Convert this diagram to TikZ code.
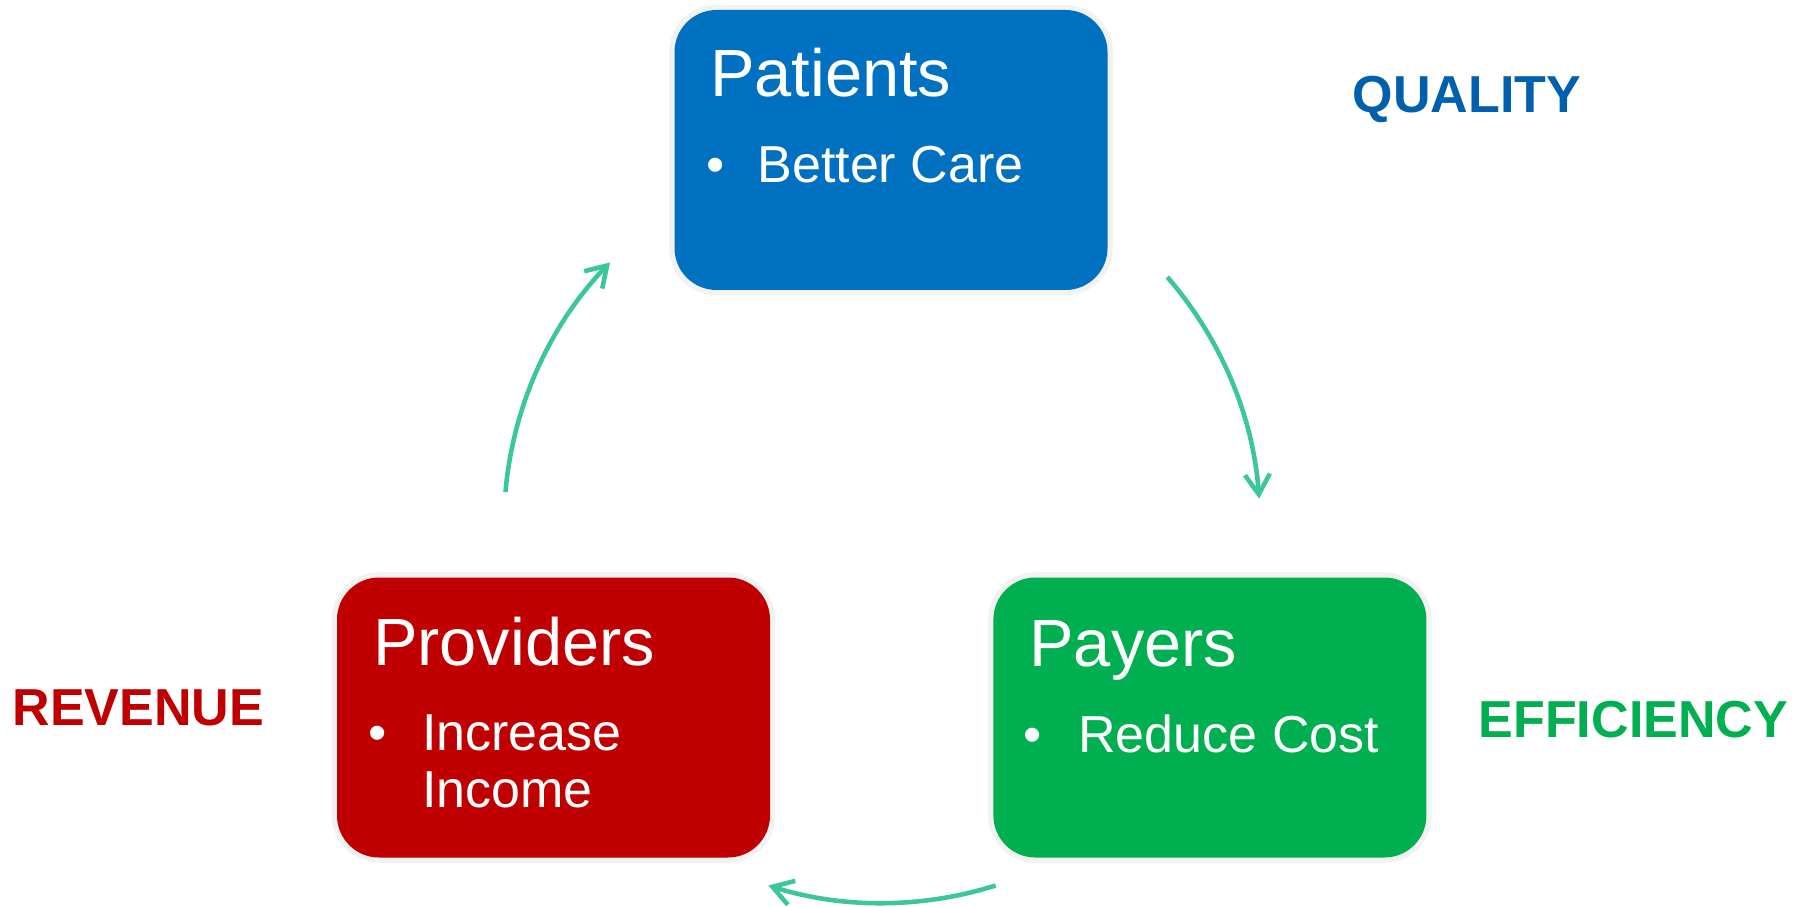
\documentclass[tikz,border=0pt]{standalone}
\usepackage{fontspec}
\setmainfont{Liberation Sans}
\usepackage{tikz}
\usetikzlibrary{arrows.meta}
\usetikzlibrary{calc}
\usetikzlibrary{positioning}

\definecolor{patblue}{HTML}{0070C0}
\definecolor{provred}{HTML}{C00000}
\definecolor{paygreen}{HTML}{00B050}
\definecolor{qualblue}{HTML}{0060AE}
\definecolor{cyclegreen}{HTML}{3CC896}

\begin{document}
\begin{tikzpicture}[inner sep=0pt,
  box/.style={rounded corners=0.42cm,minimum width=4.33cm,minimum height=2.8cm,
    preaction={draw=black!5,line width=3pt}},
  head/.style={anchor=base west,text=white,font=\fontsize{19}{21}\selectfont},
  dot/.style={anchor=base,text=white,font=\fontsize{14.8}{16.2}\selectfont},
  item/.style={anchor=base west,text=white,align=left,font=\fontsize{14.8}{16.2}\selectfont},
  tag/.style={anchor=base west,font=\fontsize{14.8}{16}\selectfont\bfseries},
  flow/.style={draw=cyclegreen,line width=1.3pt,-{Straight Barb[length=2mm,width=2.5mm]}}]
\useasboundingbox (0,0) rectangle (18.08,9.06);

% the three boxes
\node [box,fill=patblue] (pat) at (8.91,7.56) {};
\node [box,fill=provred] (prov) at (5.535,1.885) {};
\node [box,fill=paygreen,right=2.22cm of prov] (pay) {};

% box texts
\node [head] (pat-head) at ($(pat.north west)+(0.355,-0.87)$) {Patients};
\node [dot] (pat-dot) at ($(pat.north west)+(0.42,-1.73)$) {•};
\node [item] (pat-item) at ($(pat.north west)+(0.83,-1.73)$) {Better Care};

\node [head] (prov-head) at ($(prov.north west)+(0.36,-0.89)$) {Providers};
\node [dot] (prov-dot) at ($(prov.north west)+(0.41,-1.74)$) {•};
% base of a two-line node sits on its last line
\node [item] (prov-item) at ($(prov.north west)+(0.85,-2.31)$) {Increase\\Income};

\node [head] (pay-head) at ($(pay.north west)+(0.36,-0.90)$) {Payers};
\node [dot] (pay-dot) at ($(pay.north west)+(0.40,-1.76)$) {•};
\node [item] (pay-item) at ($(pay.north west)+(0.85,-1.76)$) {Reduce Cost};

% side labels
\node [tag,text=qualblue] (quality) at (13.52,7.93) {QUALITY};
\node [tag,text=provred] (revenue) at (0.12,1.81) {REVENUE};
\node [tag,text=paygreen] (efficiency) at (14.78,1.69) {EFFICIENCY};

% cycle arrows on one circle
\coordinate (hub) at (8.82,3.81);
\coordinate (a1) at ($(hub)+(175:3.78)$);
\coordinate (a2) at ($(hub)+(41:3.78)$);
\coordinate (a3) at ($(hub)+(-72.5:3.78)$);
\draw [flow] (a1) arc [start angle=175,end angle=136,radius=3.78];
\draw [flow] (a2) arc [start angle=41,end angle=4,radius=3.78];
\draw [flow] (a3) arc [start angle=-72.5,end angle=-107.5,radius=3.78];
\end{tikzpicture}
\end{document}
